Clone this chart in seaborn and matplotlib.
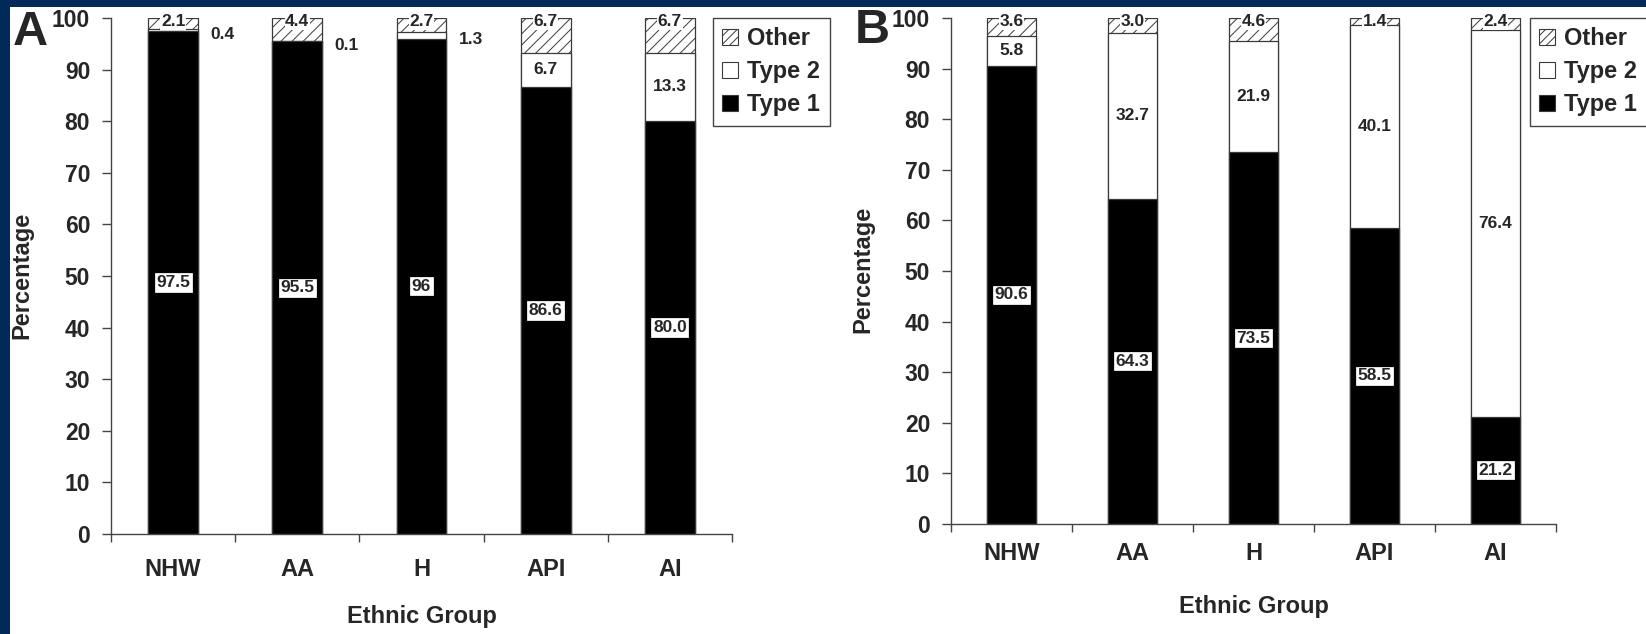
import matplotlib
matplotlib.use("Agg")
import matplotlib.pyplot as plt
import seaborn as sns
import pandas as pd
import numpy as np
from matplotlib.patches import Patch, Rectangle

# ---------------- data ----------------
groups = ["NHW", "AA", "H", "API", "AI"]
series_names = ["Other", "Type 2", "Type 1"]

a_type1 = [97.5, 95.5, 96.0, 86.6, 80.0]
a_type2 = [0.4, 0.1, 1.3, 6.7, 13.3]
a_other = [2.1, 4.4, 2.7, 6.7, 6.7]
a_type1_lbl = ["97.5", "95.5", "96", "86.6", "80.0"]
a_type2_lbl = ["0.4", "0.1", "1.3", "6.7", "13.3"]
a_other_lbl = ["2.1", "4.4", "2.7", "6.7", "6.7"]

b_type1 = [90.6, 64.3, 73.5, 58.5, 21.2]
b_type2 = [5.8, 32.7, 21.9, 40.1, 76.4]
b_other = [3.6, 3.0, 4.6, 1.4, 2.4]
b_type1_lbl = ["90.6", "64.3", "73.5", "58.5", "21.2"]
b_type2_lbl = ["5.8", "32.7", "21.9", "40.1", "76.4"]
b_other_lbl = ["3.6", "3.0", "4.6", "1.4", "2.4"]

yticks = [0, 10, 20, 30, 40, 50, 60, 70, 80, 90, 100]
panel_letters = ["A", "B"]
x_title = "Ethnic Group"
y_title = "Percentage"

# ---------------- style ----------------
sns.set_style("ticks")
plt.rcParams["font.family"] = ["Liberation Sans", "DejaVu Sans"]
plt.rcParams["font.weight"] = "bold"
plt.rcParams["axes.labelweight"] = "bold"
plt.rcParams["hatch.linewidth"] = 0.7

W, H = 1646, 634
NAVY = "#022a58"
EDGE = "#3a3a3a"

fig = plt.figure(figsize=(W / 100, H / 100), dpi=100)
fig.patch.set_facecolor(NAVY)
fig.add_artist(Rectangle((10 / W, 0), (W - 10) / W, (H - 7) / H,
                         transform=fig.transFigure, facecolor="white",
                         edgecolor="none", zorder=-5))


def px_axes(x0, x1, ytop, ybot):
    return fig.add_axes([x0 / W, 1 - ybot / H, (x1 - x0) / W, (ybot - ytop) / H])


def draw_panel(ax, t1, t2, ot, l1, l2, lo, bw, xpad, xlab_y):
    df = pd.DataFrame({"group": groups, "type1": t1, "type2": t2, "other": ot})
    df["c12"] = df["type1"] + df["type2"]
    df["c123"] = df["c12"] + df["other"]
    common = dict(data=df, x="group", width=bw, edgecolor=EDGE, linewidth=0.9,
                  saturation=1, errorbar=None, ax=ax, order=groups)
    sns.barplot(y="c123", color="white", hatch="///", **common)
    sns.barplot(y="c12", color="white", **common)
    sns.barplot(y="type1", color="black", **common)

    for i in range(len(groups)):
        ax.text(i, t1[i] / 2, l1[i], ha="center", va="center", fontsize=12.5,
                fontweight="bold", zorder=5,
                bbox=dict(boxstyle="square,pad=0.15", fc="white", ec="black", lw=0.9))
        mid2 = t1[i] + t2[i] / 2
        if t2[i] < 2:
            ax.annotate(l2[i], xy=(i + bw / 2, mid2), xytext=(9, -3),
                        textcoords="offset points", ha="left", va="center",
                        fontsize=12.5, fontweight="bold", zorder=5)
        else:
            ax.text(i, mid2, l2[i], ha="center", va="center", fontsize=12.5,
                    fontweight="bold", zorder=5)
        mid3 = max(t1[i] + t2[i] + ot[i] / 2, 99.3)
        ax.text(i, mid3, lo[i], ha="center", va="center", fontsize=12.5,
                fontweight="bold", zorder=5, clip_on=False,
                bbox=dict(boxstyle="square,pad=0.04", fc="white", ec="none"))

    ax.set_xlim(-0.5, len(groups) - 0.5)
    ax.set_ylim(0, 100)
    ax.set_yticks(yticks)
    ax.set_xticks(range(len(groups)))
    ax.set_xticklabels(groups)
    ax.set_xticks(np.arange(-0.5, len(groups), 1.0), minor=True)
    ax.tick_params(axis="x", which="major", length=0, pad=xpad, labelsize=17)
    ax.tick_params(axis="x", which="minor", length=6, width=1, color="#444",
                   direction="out")
    ax.tick_params(axis="y", length=6.5, width=1, color="#444", pad=8.5,
                   labelsize=16.5, direction="out")
    for lab in ax.get_xticklabels() + ax.get_yticklabels():
        lab.set_fontweight("bold")
    ax.set_ylabel("")
    ax.set_xlabel(x_title, fontsize=17, fontweight="bold")
    ax.xaxis.set_label_coords(0.5, xlab_y)
    ax.xaxis.label.set_va("center")
    for s in ["top", "right"]:
        ax.spines[s].set_visible(False)
    for s in ["left", "bottom"]:
        ax.spines[s].set_color("#444")
        ax.spines[s].set_linewidth(1.0)
    ax.set_facecolor("none")


axA = px_axes(111, 732, 18, 534)
axB = px_axes(951, 1556, 18, 524)

draw_panel(axA, a_type1, a_type2, a_other, a_type1_lbl, a_type2_lbl, a_other_lbl,
           0.40, 17.5, -0.159)
draw_panel(axB, b_type1, b_type2, b_other, b_type1_lbl, b_type2_lbl, b_other_lbl,
           0.41, 12.6, -0.164)

# panel letters and y titles
fig.text(13 / W, 1 - 45 / H, panel_letters[0], fontsize=35, fontweight="bold",
         ha="left", va="baseline")
fig.text(855 / W, 1 - 43 / H, panel_letters[1], fontsize=35, fontweight="bold",
         ha="left", va="baseline")
fig.text(22 / W, 1 - 275 / H, y_title, rotation=90, fontsize=17, fontweight="bold",
         ha="center", va="center")
fig.text(863 / W, 1 - 269 / H, y_title, rotation=90, fontsize=17, fontweight="bold",
         ha="center", va="center")

# legends
def make_handles():
    return [Patch(facecolor="white", edgecolor=EDGE, hatch="////", lw=0.8),
            Patch(facecolor="white", edgecolor=EDGE, lw=0.8),
            Patch(facecolor="black", edgecolor=EDGE, lw=0.8)]


for x0 in (713, 1530):
    leg = fig.legend(make_handles(), series_names, loc="upper left",
                     bbox_to_anchor=(x0 / W, 1 - 18 / H),
                     bbox_transform=fig.transFigure, frameon=True, fancybox=False,
                     edgecolor="#444", framealpha=1, fontsize=17,
                     handlelength=0.65, handleheight=0.65, handletextpad=0.4,
                     borderpad=0.4, labelspacing=0.42, borderaxespad=0)
    leg.get_frame().set_linewidth(1.0)
    for t in leg.get_texts():
        t.set_fontweight("bold")

fig.savefig("out.png", dpi=100, facecolor=fig.get_facecolor())
